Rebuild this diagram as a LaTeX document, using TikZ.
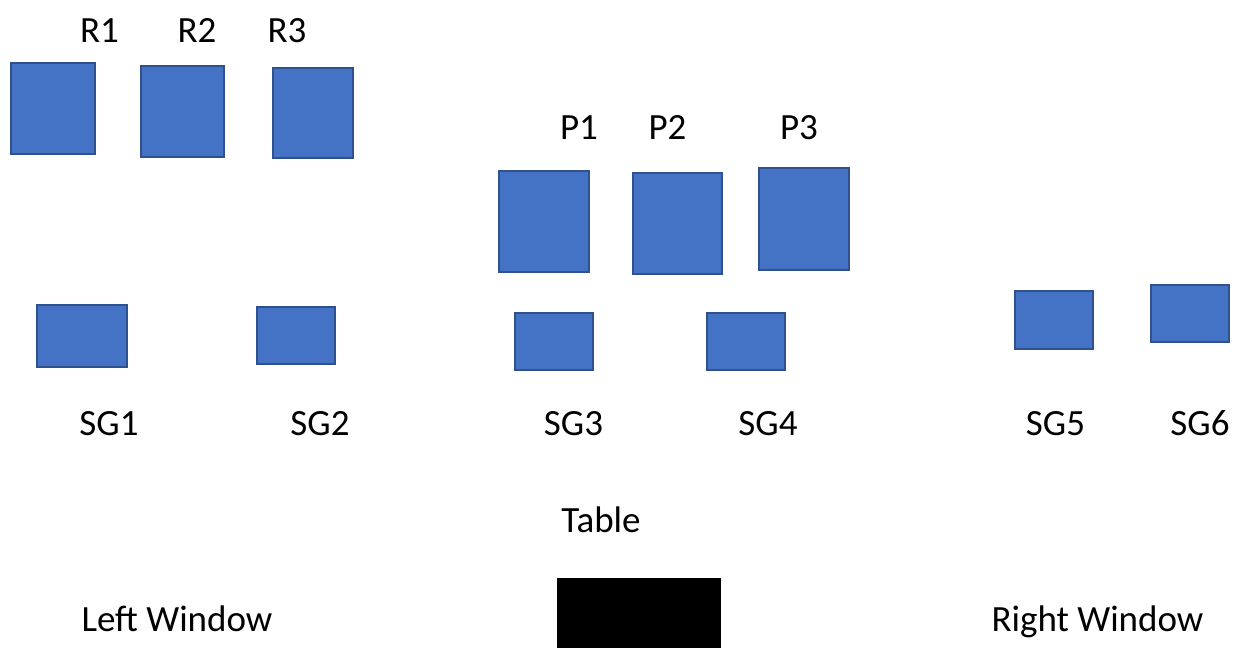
\documentclass[tikz,border=0pt]{standalone}
\usepackage{fontspec}
\setmainfont{Carlito}
\definecolor{boxfill}{HTML}{4472C4}
\definecolor{boxline}{HTML}{2F528F}
\begin{document}
\begin{tikzpicture}[x=1pt,y=-1pt,
  unit/.style={fill=boxfill,draw=boxline,line width=2.2pt},
  lbl/.style={font=\fontsize{37}{42}\selectfont,anchor=base,inner sep=0pt}]
\useasboundingbox (0,0) rectangle (1238,648);
% R boxes
\draw[unit] (11,63) rectangle (95,154) coordinate (r1);
\draw[unit] (141,66) rectangle (224,157) coordinate (r2);
\draw[unit] (273,68) rectangle (353,158) coordinate (r3);
% P boxes
\draw[unit] (499,171) rectangle (589,272) coordinate (p1);
\draw[unit] (633,173) rectangle (722,274) coordinate (p2);
\draw[unit] (759,168) rectangle (849,270) coordinate (p3);
% SG boxes
\draw[unit] (37,305) rectangle (127,367) coordinate (sg1);
\draw[unit] (257,307) rectangle (335,364) coordinate (sg2);
\draw[unit] (515,313) rectangle (593,370) coordinate (sg3);
\draw[unit] (707,313) rectangle (785,370) coordinate (sg4);
\draw[unit] (1015,291) rectangle (1093,349) coordinate (sg5);
\draw[unit] (1151,285) rectangle (1229,342) coordinate (sg6);
% table
\fill[black] (557,578) rectangle (721,648) coordinate (tbl);
% labels
\node[lbl] (lr1) at (99.5,42) {R1};
\node[lbl] (lr2) at (197,42) {R2};
\node[lbl] (lr3) at (287,42) {R3};
\node[lbl] (lp1) at (579,139) {P1};
\node[lbl] (lp2) at (667.5,139) {P2};
\node[lbl] (lp3) at (799,139) {P3};
\node[lbl] (lsg1) at (109,435) {SG1};
\node[lbl] (lsg2) at (320,435) {SG2};
\node[lbl] (lsg3) at (573.5,435) {SG3};
\node[lbl] (lsg4) at (768,435) {SG4};
\node[lbl] (lsg5) at (1055.5,435) {SG5};
\node[lbl] (lsg6) at (1200,435) {SG6};
\node[lbl] (ltable) at (601,532) {Table};
\node[lbl] (lleft) at (177,631) {Left Window};
\node[lbl] (lright) at (1097.5,631) {Right Window};
\end{tikzpicture}
\end{document}
